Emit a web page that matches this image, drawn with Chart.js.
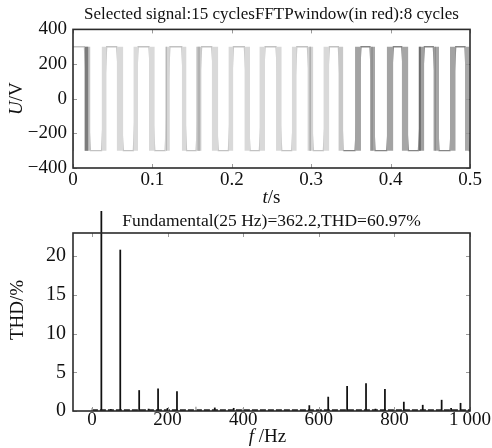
<!DOCTYPE html>
<html>
<head>
<meta charset="utf-8">
<script src="https://cdn.jsdelivr.net/npm/chart.js@4.4.1/dist/chart.umd.min.js"></script>
<style>
    html, body { margin: 0; padding: 0; background: #fff; }
    #wrap { position: relative; width: 492px; height: 448px; overflow: hidden; }
    .box { position: absolute; left: 0; width: 492px; }
    #topBox { top: 0; height: 210px; }
    #botBox { top: 200px; height: 248px; }
</style>
</head>
<body>
<div id="wrap">
    <div class="box" id="topBox"><canvas id="waveChart"></canvas></div>
    <div class="box" id="botBox"><canvas id="spectrumChart"></canvas></div>
</div>
<script>
// ---- waveform (top) ----
const timeTicks = [0, 0.1, 0.2, 0.3, 0.4, 0.5];
const timeLabels = ['0', '0.1', '0.2', '0.3', '0.4', '0.5'];
const voltTicks = [-400, -200, 0, 200, 400];
const voltLabels = ['\u2212400', '\u2212200', '0', '200', '400'];
const levelHigh = 300;
const levelLow = -300;
const windowStart = 0.338;

// switching bands (start, end in s)
const bandStart = [0.0143, 0.0360, 0.0550, 0.0760, 0.0957, 0.1160, 0.1370, 0.1550, 0.1747, 0.1957, 0.2158, 0.2347, 0.2557,
                   0.2755, 0.2952, 0.3153, 0.3342, 0.3552, 0.3741, 0.3951, 0.4140, 0.4350, 0.4538, 0.4748, 0.4937];
const bandEnd   = [0.0220, 0.0424, 0.0634, 0.0820, 0.1030, 0.1220, 0.1430, 0.1620, 0.1830, 0.2020, 0.2230, 0.2419, 0.2629,
                   0.2818, 0.3027, 0.3229, 0.3405, 0.3627, 0.3804, 0.4035, 0.4224, 0.4425, 0.4610, 0.4820, 0.4990];
const bandGray  = ['#c4c4c4', '#d9d9d9', '#d9d9d9', '#dadada', '#d9d9d9', '#d6d6d6', '#d9d9d9', '#d2d2d2', '#d9d9d9',
                   '#d9d9d9', '#d9d9d9', '#d9d9d9', '#d9d9d9', '#d9d9d9', '#d4d4d4', '#d9d9d9', '#c8c8c8', '#a3a3a3',
                   '#a6a6a6', '#a3a3a3', '#a6a6a6', '#a0a0a0', '#a6a6a6', '#a3a3a3', '#a8a8a8'];
// darker streaks inside some bands
const streakStart = [0.0000, 0.0145, 0.1175, 0.1565, 0.2975, 0.3760, 0.4360, 0.4555];
const streakEnd   = [0.0012, 0.0195, 0.1185, 0.1605, 0.3000, 0.3772, 0.4380, 0.4567];
const streakGray  = ['#666666', '#7c7c7c', '#9a9a9a', '#b3b3b3', '#b0b0b0', '#555555', '#555555', '#666666'];

// ---- spectrum (bottom) ----
const freqTicks = [0, 200, 400, 600, 800, 1000];
const freqLabels = ['0', '200', '400', '600', '800', '1\u2009000'];
const thdTicks = [0, 5, 10, 15, 20];
const harmonicFreq = [0, 25, 50, 75, 125, 150, 175, 200, 225, 275, 325, 375, 400,
                      575, 625, 675, 725, 750, 775, 825, 875, 925, 950, 975];
const harmonicMag  = [0.3, 100, 0.2, 20.8, 2.65, 0.25, 2.85, 0.35, 2.5, 0.5, 0.4, 0.35, 0.3,
                      0.7, 1.8, 3.2, 3.55, 0.25, 2.8, 1.15, 0.75, 1.4, 0.35, 1.0];
const faintFreq = [0, 275, 400];
const noiseFreq = [0, 1000];
const noiseLevel = [0.1, 0.1];

const serif = '"Liberation Serif", "DejaVu Serif", serif';

// frame + inward tick marks + mixed style axis titles
const framePlugin = {
    id: 'frame',
    afterDraw(chart, args, opts) {
        const ctx = chart.ctx;
        const a = chart.chartArea;
        ctx.save();
        ctx.strokeStyle = '#9a9a9a';
        ctx.lineWidth = 1;
        chart.scales.x.ticks.forEach(function(t) {
            const px = Math.round(chart.scales.x.getPixelForValue(t.value)) + 0.5;
            ctx.beginPath();
            ctx.moveTo(px, a.bottom); ctx.lineTo(px, a.bottom - 4);
            ctx.moveTo(px, a.top); ctx.lineTo(px, a.top + 4);
            ctx.stroke();
        });
        chart.scales.y.ticks.forEach(function(t) {
            const py = Math.round(chart.scales.y.getPixelForValue(t.value)) + 0.5;
            ctx.beginPath();
            ctx.moveTo(a.left, py); ctx.lineTo(a.left + 4, py);
            ctx.moveTo(a.right, py); ctx.lineTo(a.right - 4, py);
            ctx.stroke();
        });
        ctx.strokeStyle = '#2b2b2b';
        ctx.lineWidth = 1.6;
        ctx.strokeRect(a.left, a.top, a.right - a.left, a.bottom - a.top);

        ctx.fillStyle = '#111';
        ctx.textBaseline = 'middle';
        drawParts(ctx, opts.xTitle, (a.left + a.right) / 2 + opts.xShift, a.bottom + opts.xOffset, 0, opts.size);
        drawParts(ctx, opts.yTitle, opts.yX, (a.top + a.bottom) / 2 + opts.yShift, -Math.PI / 2, opts.size);
        ctx.restore();
    }
};

function drawParts(ctx, parts, cx, cy, angle, size) {
    let total = 0;
    parts.forEach(function(p) {
        ctx.font = (p[1] ? 'italic ' : '') + size + 'px ' + serif;
        total += ctx.measureText(p[0]).width;
    });
    ctx.save();
    ctx.translate(cx, cy);
    ctx.rotate(angle);
    let x = -total / 2;
    ctx.textAlign = 'left';
    parts.forEach(function(p) {
        ctx.font = (p[1] ? 'italic ' : '') + size + 'px ' + serif;
        ctx.fillText(p[0], x, 0);
        x += ctx.measureText(p[0]).width;
    });
    ctx.restore();
}

function fixTicks(values) {
    return function(scale) {
        scale.ticks = values.map(function(v) { return { value: v }; });
    };
}

function initWaveChart() {
    const ctx = document.getElementById('waveChart');
    if (!ctx) return;

    // square wave path through the switching bands
    const path = [{ x: 0, y: levelHigh }];
    let level = levelHigh;
    for (let i = 0; i < bandStart.length; i++) {
        path.push({ x: bandStart[i], y: level });
        level = level === levelHigh ? levelLow : levelHigh;
        path.push({ x: bandEnd[i], y: level });
    }
    path.push({ x: timeTicks[timeTicks.length - 1], y: level });

    const datasets = [];
    function addBand(s, e, color) {
        datasets.push({
            type: 'line',
            data: [{ x: s, y: levelLow }, { x: s, y: levelHigh }, { x: e, y: levelHigh }, { x: e, y: levelLow }],
            borderWidth: 0,
            pointRadius: 0,
            backgroundColor: color,
            fill: { value: levelLow }
        });
    }
    for (let i = 0; i < streakStart.length; i++) addBand(streakStart[i], streakEnd[i], streakGray[i]);
    for (let i = 0; i < bandStart.length; i++) addBand(bandStart[i], bandEnd[i], bandGray[i]);

    datasets.push({
        type: 'line',
        data: path,
        borderWidth: 1.3,
        pointRadius: 0,
        fill: false,
        borderColor: '#c2c2c2',
        segment: {
            borderColor: function(c) { return c.p0.parsed.x >= windowStart ? '#858585' : '#c2c2c2'; }
        }
    });

    new Chart(ctx, {
        type: 'line',
        data: { datasets: datasets },
        options: {
            responsive: true,
            maintainAspectRatio: false,
            animation: false,
            layout: { padding: { left: 0, right: 22, top: 0, bottom: 0 } },
            plugins: {
                legend: { display: false },
                tooltip: { enabled: false },
                title: {
                    display: true,
                    fullSize: false,
                    text: 'Selected signal:15 cyclesFFTPwindow(in red):8 cycles',
                    color: '#111',
                    font: { family: serif, size: 17, weight: 'normal' },
                    padding: { top: 4, bottom: 5 }
                },
                frame: {
                    xTitle: [['t', true], ['/s', false]],
                    yTitle: [['U', true], ['/V', false]],
                    size: 19, xShift: 0, xOffset: 30, yX: 17, yShift: 0
                }
            },
            scales: {
                x: {
                    type: 'linear',
                    min: 0,
                    max: 0.5,
                    afterBuildTicks: fixTicks(timeTicks),
                    afterFit: function(s) { s.height = 42; s.paddingLeft = 0; s.paddingRight = 0; },
                    grid: { display: false, drawTicks: false },
                    border: { display: false },
                    ticks: {
                        color: '#111',
                        font: { family: serif, size: 19 },
                        padding: 1,
                        maxRotation: 0,
                        autoSkip: false,
                        callback: function(v, i) { return timeLabels[i]; }
                    }
                },
                y: {
                    min: -400,
                    max: 400,
                    afterBuildTicks: fixTicks(voltTicks),
                    afterFit: function(s) { s.width = 73; s.paddingTop = 0; s.paddingBottom = 0; },
                    grid: { display: false, drawTicks: false },
                    border: { display: false },
                    ticks: {
                        color: '#111',
                        font: { family: serif, size: 19 },
                        padding: 6,
                        autoSkip: false,
                        callback: function(v, i) { return voltLabels[i]; }
                    }
                }
            }
        },
        plugins: [framePlugin]
    });
}

function initSpectrumChart() {
    const ctx = document.getElementById('spectrumChart');
    if (!ctx) return;

    const bars = harmonicFreq.map(function(f, i) { return { x: f, y: harmonicMag[i] }; });
    const noise = noiseFreq.map(function(f, i) { return { x: f, y: noiseLevel[i] }; });

    new Chart(ctx, {
        type: 'bar',
        data: {
            datasets: [{
                type: 'bar',
                data: bars,
                barThickness: 1.1,
                backgroundColor: function(c) {
                    const f = c.raw ? c.raw.x : null;
                    return faintFreq.indexOf(f) >= 0 ? '#b5b5b5' : '#111';
                },
                borderWidth: 0,
                clip: { left: 5, top: 22, right: 5, bottom: 0 }
            }, {
                type: 'line',
                data: noise,
                borderColor: '#222',
                borderWidth: 2,
                borderDash: [6, 2],
                pointRadius: 0,
                fill: false
            }]
        },
        options: {
            responsive: true,
            maintainAspectRatio: false,
            animation: false,
            layout: { padding: { left: 0, right: 22, top: 0, bottom: 0 } },
            plugins: {
                legend: { display: false },
                tooltip: { enabled: false },
                title: {
                    display: true,
                    fullSize: false,
                    text: 'Fundamental(25 Hz)=362.2,THD=60.97%',
                    color: '#111',
                    font: { family: serif, size: 17.5, weight: 'normal' },
                    padding: { top: 11, bottom: 1 }
                },
                frame: {
                    xTitle: [['f', true], [' /Hz', false]],
                    yTitle: [['THD/%', false]],
                    size: 19, xShift: -4, xOffset: 26, yX: 18, yShift: -12
                }
            },
            scales: {
                x: {
                    type: 'linear',
                    min: -50,
                    max: 1000,
                    offset: false,
                    afterBuildTicks: fixTicks(freqTicks),
                    afterFit: function(s) { s.height = 37; s.paddingLeft = 0; s.paddingRight = 0; },
                    grid: { display: false, offset: false, drawTicks: false },
                    border: { display: false },
                    ticks: {
                        color: '#111',
                        font: { family: serif, size: 19 },
                        padding: -2,
                        maxRotation: 0,
                        autoSkip: false,
                        callback: function(v, i) { return freqLabels[i]; }
                    }
                },
                y: {
                    min: 0,
                    max: 23,
                    afterBuildTicks: fixTicks(thdTicks),
                    afterFit: function(s) { s.width = 73; s.paddingTop = 0; s.paddingBottom = 0; },
                    grid: { display: false, drawTicks: false },
                    border: { display: false },
                    ticks: {
                        color: '#111',
                        font: { family: serif, size: 20 },
                        padding: 7,
                        autoSkip: false,
                        callback: function(v, i) { return String(thdTicks[i]); }
                    }
                }
            }
        },
        plugins: [framePlugin]
    });
}

initWaveChart();
initSpectrumChart();
</script>
</body>
</html>
